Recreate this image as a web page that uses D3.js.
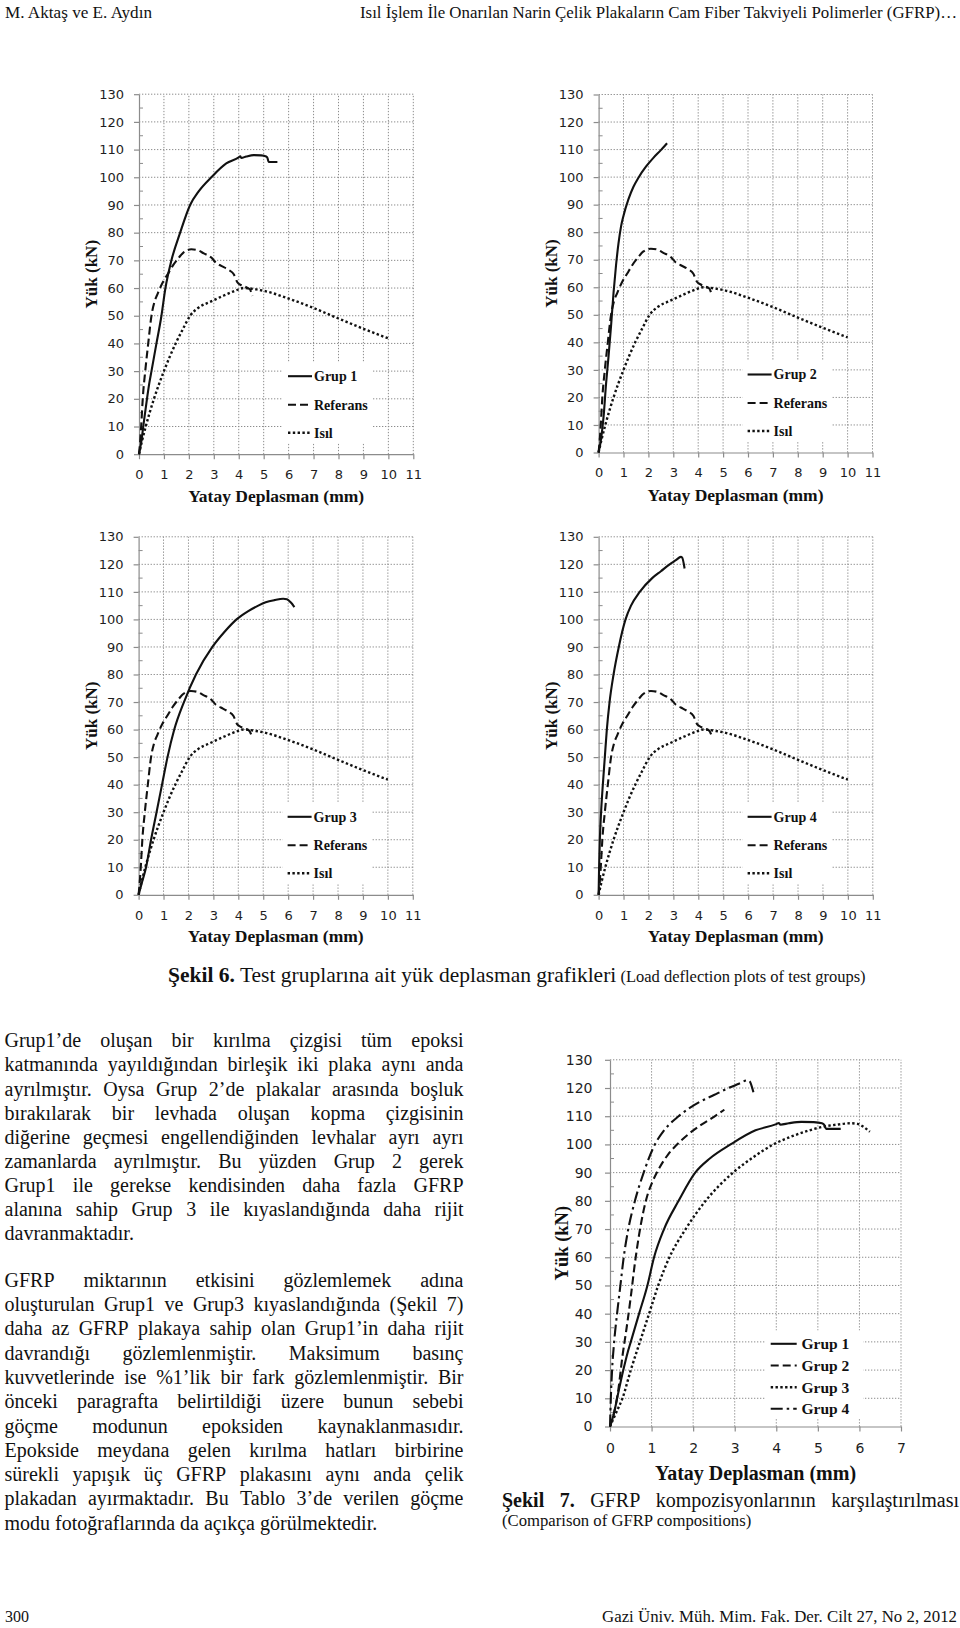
<!DOCTYPE html>
<html><head><meta charset="utf-8">
<script src="https://cdn.jsdelivr.net/npm/d3@7"></script>
<style>body{margin:0;background:#fff}svg{display:block}</style>
</head><body>
<svg id="page" width="960" height="1628"></svg>
<script>
// ---------- DATA ----------
const xTicks11 = [0,1,2,3,4,5,6,7,8,9,10,11];
const xTicks7 = [0,1,2,3,4,5,6,7];
const yTicks = [0,10,20,30,40,50,60,70,80,90,100,110,120,130];
const yMinor = [5,15,25,35,45,55,65,75,85,95,105,115,125];

// [displacement mm, load kN]
const referans = [[0,0],[0.05,5],[0.1,12],[0.15,20],[0.25,30],[0.37,40],[0.5,50],[0.62,55],[0.75,58],[0.95,62],[1.15,65],[1.35,68],[1.6,71],[1.8,73],[2.1,74],[2.35,73.7],[2.6,72.5],[2.9,71],[3.1,69],[3.3,68],[3.6,66.5],[3.8,65],[3.95,62],[4.1,61],[4.3,60.3],[4.45,59.5],[4.5,58.5],[4.55,57.2]];
const isil = [[0,0],[0.1,4],[0.27,10],[0.6,20],[1.0,30],[1.47,40],[1.75,45],[2.05,50],[2.4,53],[2.85,55],[3.4,57.3],[3.9,59.2],[4.2,60],[4.7,59.5],[5.1,58.8],[6.0,56.2],[7.0,52.8],[8.0,49],[9.0,45.3],[10.0,41.8]];
const grup1 = [[0,0],[0.1,5],[0.2,12],[0.32,20],[0.42,26],[0.5,30],[0.7,40],[0.9,50],[1.06,60],[1.3,70],[1.65,80],[2.05,90],[2.4,95],[2.9,100],[3.5,105],[4.0,107.2],[4.06,107.6],[4.1,107.0],[4.3,107.5],[4.6,108],[4.9,107.9],[5.1,107.5],[5.15,107.0],[5.2,105.5],[5.55,105.5]];
const grup2 = [[0,0],[0.1,5],[0.2,13],[0.3,25],[0.4,35],[0.5,46],[0.6,58],[0.7,68],[0.8,76],[0.9,82],[1.0,86],[1.2,92],[1.4,96.5],[1.6,99.8],[1.9,103.8],[2.2,107],[2.5,109.8],[2.75,112.3]];
const grup3 = [[0,0],[0.15,5],[0.3,10],[0.5,20],[0.72,30],[0.94,40],[1.16,50],[1.43,60],[1.82,70],[2.3,80],[2.96,90],[3.45,95.5],[3.93,100],[4.4,103],[4.8,105],[5.1,106.2],[5.45,107],[5.8,107.5],[5.95,107.3],[6.1,106.2],[6.25,104.5]];
const grup4 = [[0,0],[0.02,10],[0.05,20],[0.1,30],[0.17,40],[0.25,50],[0.33,60],[0.44,70],[0.6,80],[0.81,90],[1.08,100],[1.3,105],[1.65,110],[2.15,115],[2.5,117.5],[2.85,120],[3.1,121.5],[3.3,122.7],[3.35,122.5],[3.45,118.5]];

const grupLabels = ["Grup 1","Grup 2","Grup 3","Grup 4"];
const refLabel = "Referans", isilLabel = "Isıl";
const xTitle = "Yatay Deplasman (mm)", yTitle = "Yük (kN)";

const para1 = [
"Grup1’de oluşan bir kırılma çizgisi tüm epoksi",
"katmanında yayıldığından birleşik iki plaka aynı anda",
"ayrılmıştır. Oysa Grup 2’de plakalar arasında boşluk",
"bırakılarak bir levhada oluşan kopma çizgisinin",
"diğerine geçmesi engellendiğinden levhalar ayrı ayrı",
"zamanlarda ayrılmıştır. Bu yüzden Grup 2 gerek",
"Grup1 ile gerekse kendisinden daha fazla GFRP",
"alanına sahip Grup 3 ile kıyaslandığında daha rijit",
"davranmaktadır."];
const para2 = [
"GFRP miktarının etkisini gözlemlemek adına",
"oluşturulan Grup1 ve Grup3 kıyaslandığında (Şekil 7)",
"daha az GFRP plakaya sahip olan Grup1’in daha rijit",
"davrandığı gözlemlenmiştir. Maksimum basınç",
"kuvvetlerinde ise %1’lik bir fark gözlemlenmiştir. Bir",
"önceki paragrafta belirtildiği üzere bunun sebebi",
"göçme modunun epoksiden kaynaklanmasıdır.",
"Epokside meydana gelen kırılma hatları birbirine",
"sürekli yapışık üç GFRP plakasını aynı anda çelik",
"plakadan ayırmaktadır. Bu Tablo 3’de verilen göçme",
"modu fotoğraflarında da açıkça görülmektedir."];

// ---------- DRAWING ----------
const svg = d3.select("#page");
const SERIF = "'Liberation Serif','Times New Roman',serif";
const SANS = "'DejaVu Sans',Verdana,sans-serif";
const GRID = "#8c8c8c";

const styles = {
  solid:  {w:2.1, dash:null},
  dashed: {w:2.1, dash:"8,4"},
  dotted: {w:2.4, dash:"2.4,2.4"},
  dashdot:{w:2.1, dash:"12,4,2.5,4"}
};

function drawChart(cfg){
  const x = d3.scaleLinear().domain([0,cfg.xmax]).range([cfg.left,cfg.right]);
  const y = d3.scaleLinear().domain([0,130]).range([cfg.bottom,cfg.top]);
  const g = svg.append("g");
  g.selectAll(null).data(cfg.xticks.slice(1)).join("line")
    .attr("x1",d=>x(d)).attr("x2",d=>x(d)).attr("y1",y(0)).attr("y2",y(130))
    .attr("stroke",GRID).attr("stroke-width",1).attr("stroke-dasharray","1.3,1.7");
  g.selectAll(null).data(yTicks.slice(1)).join("line")
    .attr("x1",x(0)).attr("x2",x(cfg.xmax)).attr("y1",d=>y(d)).attr("y2",d=>y(d))
    .attr("stroke",GRID).attr("stroke-width",1).attr("stroke-dasharray","1.3,1.7");
  g.selectAll(null).data(yMinor).join("line")
    .attr("x1",x(0)).attr("x2",x(0)+4).attr("y1",d=>y(d)).attr("y2",d=>y(d))
    .attr("stroke",GRID).attr("stroke-width",1);
  const fmt = d3.format("d");
  const ya = g.append("g").attr("transform",`translate(${x(0)},0)`)
    .call(d3.axisLeft(y).tickValues(yTicks).tickFormat(fmt).tickSizeInner(5).tickSizeOuter(0).tickPadding(cfg.ypad));
  const xa = g.append("g").attr("transform",`translate(0,${y(0)})`)
    .call(d3.axisBottom(x).tickValues(cfg.xticks).tickFormat(fmt).tickSizeInner(5).tickSizeOuter(0).tickPadding(cfg.xpad));
  [ya,xa].forEach(a=>{
    a.select(".domain").attr("stroke",GRID).attr("stroke-width",1.2);
    a.selectAll(".tick line").attr("stroke",GRID).attr("stroke-width",1.2);
    a.selectAll("text").attr("font-family",SANS).attr("font-size",cfg.tickFont).attr("fill","#1e1e1e");
  });
  const L = cfg.legend;
  g.append("rect").attr("x",x(0)+L.bx0).attr("y",y(0)-L.by0).attr("width",L.bx1-L.bx0).attr("height",L.by0-L.by1).attr("fill","#fff");
  const line = d3.line().x(d=>x(d[0])).y(d=>y(d[1])).curve(d3.curveMonotoneX);
  cfg.series.forEach(s=>{
    const st = styles[s.style];
    g.append("path").datum(s.data).attr("d",line).attr("fill","none")
      .attr("stroke","#111").attr("stroke-width",st.w).attr("stroke-dasharray",st.dash)
      .attr("stroke-linejoin","round");
  });
  cfg.series.forEach((s,i)=>{
    const st = styles[s.style];
    const yy = y(0)-L.rows[i];
    g.append("line").attr("x1",x(0)+L.sx0).attr("x2",x(0)+L.sx1).attr("y1",yy).attr("y2",yy)
      .attr("stroke","#111").attr("stroke-width",st.w).attr("stroke-dasharray",st.dash);
    g.append("text").attr("x",x(0)+L.tx).attr("y",yy).attr("dy","0.35em")
      .attr("font-family",SERIF).attr("font-weight","bold").attr("font-size",L.font).attr("fill","#111").text(s.label);
  });
  g.append("text").attr("x",(x(0)+x(cfg.xmax))/2).attr("y",cfg.xTitleY).attr("text-anchor","middle")
    .attr("font-family",SERIF).attr("font-weight","bold").attr("font-size",cfg.titleFont).attr("fill","#111").text(xTitle);
  g.append("text").attr("transform",`translate(${cfg.yTitleX},${(y(0)+y(130))/2}) rotate(-90)`)
    .attr("text-anchor","middle").attr("dy","0.35em")
    .attr("font-family",SERIF).attr("font-weight","bold").attr("font-size",cfg.yTitleFont).attr("fill","#111").text(yTitle);
}

const leg4 = {bx0:144,bx1:233,by0:92,by1:11,sx0:149,sx1:173,tx:175,rows:[78,49.5,21.5],font:14};
const boxes = [
  {left:139,right:413.3,top:94.2,bottom:454.2,xTitleY:502,yTitleX:91.5,g:grup1,lab:grupLabels[0]},
  {left:598.6,right:872.5,top:94.5,bottom:452.5,xTitleY:501,yTitleX:551.5,g:grup2,lab:grupLabels[1]},
  {left:138.6,right:412.8,top:536.8,bottom:894.8,xTitleY:942,yTitleX:91.5,g:grup3,lab:grupLabels[2]},
  {left:598.6,right:872.8,top:536.8,bottom:894.8,xTitleY:942,yTitleX:551.5,g:grup4,lab:grupLabels[3]}
];
boxes.forEach(b=>{
  drawChart(Object.assign({xmax:11,xticks:xTicks11,ypad:10,xpad:10.5,tickFont:13,titleFont:17.5,yTitleFont:17,legend:leg4,
    series:[{data:b.g,style:"solid",label:b.lab},{data:referans,style:"dashed",label:refLabel},{data:isil,style:"dotted",label:isilLabel}]},b));
});
drawChart({left:610,right:901,top:1059.8,bottom:1426.5,xmax:7,xticks:xTicks7,ypad:12.5,xpad:12,tickFont:14,titleFont:20,yTitleFont:18.5,
  xTitleY:1480,yTitleX:561.5,
  legend:{bx0:155,bx1:253,by0:96,by1:8,sx0:160.7,sx1:186.7,tx:191.5,rows:[82.7,61,39.3,17.7],font:15.5},
  series:[{data:grup1,style:"solid",label:grupLabels[0]},{data:grup2,style:"dashed",label:grupLabels[1]},
          {data:grup3,style:"dotted",label:grupLabels[2]},{data:grup4,style:"dashdot",label:grupLabels[3]}]});

// ---------- TEXT ----------
function fitText(t,x,yb,w,size,weight){
  const el = svg.append("text").attr("x",x).attr("y",yb).attr("font-family",SERIF).attr("font-size",size)
    .attr("font-weight",weight||"normal").attr("fill","#111").text(t);
  if(w) el.attr("textLength",w).attr("lengthAdjust","spacingAndGlyphs");
  return el;
}
function justifyLine(words,x0,x1,yb,size,justify){
  const nodes = words.map(w=>svg.append("text").attr("y",yb).attr("font-family",SERIF).attr("font-size",size)
     .attr("font-weight",w.bold?"bold":"normal").attr("fill","#111").text(w.t));
  let widths = nodes.map(n=>n.node().getComputedTextLength());
  const total = d3.sum(widths);
  const minGap = size*0.2;
  let gap = size*0.25;
  if(justify && words.length>1){
    gap = (x1-x0-total)/(words.length-1);
    if(gap<minGap){
      const k = (x1-x0-minGap*(words.length-1))/total;
      widths = widths.map((w,i)=>{nodes[i].attr("textLength",w*k).attr("lengthAdjust","spacingAndGlyphs"); return w*k;});
      gap = minGap;
    }
  }
  let cx = x0;
  nodes.forEach((n,i)=>{n.attr("x",cx); cx += widths[i]+gap;});
}
function paragraph(lines,x0,x1,y0,lh,size){
  lines.forEach((l,i)=>{
    justifyLine(l.split(" ").map(t=>({t})),x0,x1,y0+i*lh,size,i<lines.length-1);
  });
}
paragraph(para1,4.5,463.5,1047.3,24.1,20);
paragraph(para2,4.5,463.5,1286.7,24.3,20);

// header / footer
fitText("M. Aktaş ve E. Aydın",5,18,147,16.5);
fitText("Isıl İşlem İle Onarılan Narin Çelik Plakaların Cam Fiber Takviyeli Polimerler (GFRP)…",360,18,597,16.5);
fitText("300",5,1622,24,16.5);
fitText("Gazi Üniv. Müh. Mim. Fak. Der. Cilt 27, No 2, 2012",602,1622,355,16.5);

// Figure 6 caption
const cap6 = svg.append("text").attr("x",168).attr("y",982).attr("font-family",SERIF).attr("fill","#111");
cap6.append("tspan").attr("font-size",21.5).attr("font-weight","bold").text("Şekil 6.");
cap6.append("tspan").attr("font-size",21.5).text(" Test gruplarına ait yük deplasman grafikleri");
cap6.append("tspan").attr("font-size",16.5).text(" (Load deflection plots of test groups)");

// Figure 7 caption
justifyLine([{t:"Şekil",bold:true},{t:"7.",bold:true},{t:"GFRP"},{t:"kompozisyonlarının"},{t:"karşılaştırılması"}],502,959,1506.5,20,true);
fitText("(Comparison of GFRP compositions)",502,1525.5,null,16.7);
</script>
</body></html>
